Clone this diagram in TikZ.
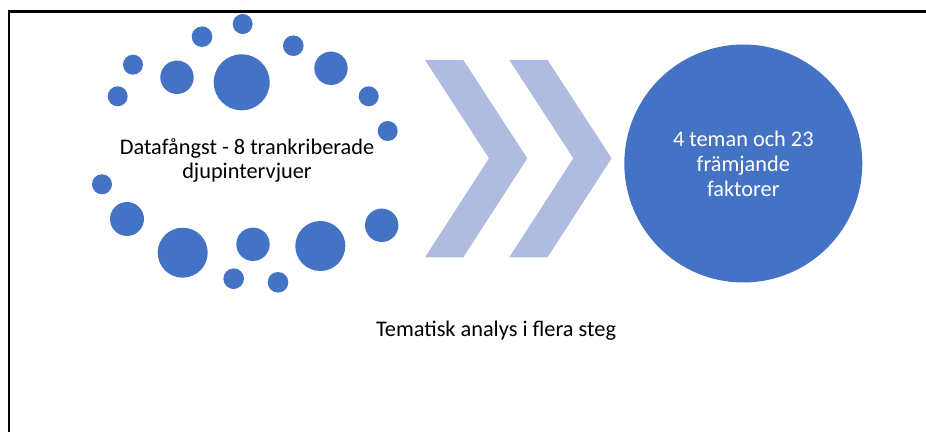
\documentclass[tikz,border=0pt]{standalone}
\usepackage{fontspec}
\setmainfont{Carlito}
\usepackage{xcolor}
\usepackage{tikz}
\usetikzlibrary{calc}
\definecolor{dotblue}{RGB}{68,114,196}
\definecolor{chevblue}{RGB}{176,188,223}

\begin{document}
\begin{tikzpicture}[x=0.02cm, y=-0.02cm,
    txt/.style={font=\fontsize{12.7}{14.2}\selectfont, align=center, inner sep=0pt}]
    \useasboundingbox (0,0) rectangle (926,432);
    % Frame (top and left edge only)
    \draw[line width=1.15pt] (9,432) -- (9,11.5) -- (926,11.5);
    % Ring of dots
    \foreach \x/\y/\r in {242.7/24/10, 202/36.7/10.3, 133/64.7/10, 117.7/96.3/10,
        177/77.3/16.7, 241.7/82.3/28, 293.3/45.7/10.3, 331/68.3/16.7,
        368.7/96.3/10, 387.7/131/10, 102/184.3/10, 127/219/17,
        182.7/252.7/25, 253/244.3/16.7, 320.3/246/25, 381.7/225.3/16.7,
        233.7/278.7/10.3, 278/282.3/10.3}
        \fill[dotblue] (\x,\y) circle (\r);
    \node[txt] (data) at (247,160.5) {Datafångst - 8 trankriberade\\djupintervjuer};
    % Two chevrons
    \foreach \o in {0,84.3}
        \fill[chevblue] (425+\o,60) -- (463.3+\o,60) -- (527.3+\o,158.3)
            -- (463.3+\o,257.3) -- (425+\o,257.3) -- (489+\o,158.3) -- cycle;
    % Result
    \node[txt, circle, fill=dotblue, text=white, minimum size=4.76cm] (result)
        at (743.3,163.5) {4 teman och 23\\främjande\\faktorer};
    \node[txt] (steps) at (496,331) {Tematisk analys i flera steg};
\end{tikzpicture}
\end{document}
